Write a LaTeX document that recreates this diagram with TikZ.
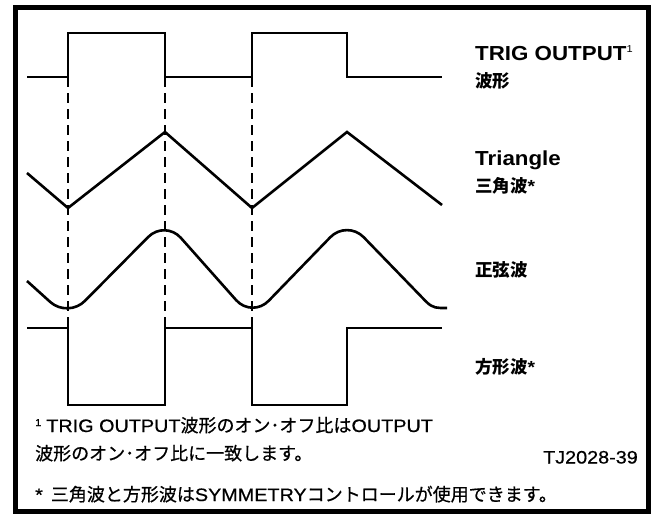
\documentclass[tikz,border=0pt]{standalone}
\usepackage{fontspec}
\setmainfont{Liberation Sans}
\newfontfamily\lat{Liberation Sans}[FakeStretch=1.1]
\newfontfamily\latm{Liberation Sans}[FakeStretch=1.1, FakeBold=0.6]
\newfontfamily\cjk{Noto Sans CJK JP}
\newfontfamily\cjkm{Noto Sans CJK JP}[FakeBold=0.6]
\newcommand\J[1]{{\cjkm #1}}
\begin{document}
\begin{tikzpicture}[x=1pt,y=-1pt,
  wave/.style={line width=2.6pt, line join=miter},
  guide/.style={line width=1.3pt, dash pattern=on 10pt off 6pt},
  lblb/.style={inner sep=0pt, font=\lat\bfseries\fontsize{20.3}{22}\selectfont},
  cjkb/.style={inner sep=0pt, font=\cjk\bfseries\fontsize{17.5}{20}\selectfont},
  fn/.style={inner sep=0pt, font=\latm\fontsize{18}{20}\selectfont}]
\useasboundingbox (0,0) rectangle (661,514);
\draw[line width=5pt] (15.5,7.5) rectangle (648.5,511.5);
% guide lines
\coordinate (g1t) at (68,77);  \coordinate (g1b) at (68,328);
\coordinate (g2t) at (165,77); \coordinate (g2b) at (165,328);
\coordinate (g3t) at (252,77); \coordinate (g3b) at (252,328);
\draw[guide] (g1t) -- (g1b);
\draw[guide] (g2t) -- (g2b);
\draw[guide] (g3t) -- (g3b);
% TRIG OUTPUT
\draw[wave] (27,77) -- (68,77) -- (68,33) -- (165,33) -- (165,77) -- (252,77) -- (252,33) -- (347,33) -- (347,77) -- (442,77);
% triangle
\draw[wave] (27,173) -- (68,208) -- (165,132) -- (252,208) -- (347,132) -- (442,205);
% sine
\draw[wave, rounded corners=24pt] (27,281) -- (68,318) -- (165,220) -- (252,318) -- (347,220) -- (426,301.5);
\draw[wave] (426,301.5) .. controls (433,308.5) and (437,308) .. (447,308);
% square
\draw[wave] (27,328) -- (68,328) -- (68,405) -- (165,405) -- (165,328) -- (252,328) -- (252,405) -- (347,405) -- (347,328) -- (442,328);
% labels
\node[lblb, anchor=base west] (trig) at (475,60) {TRIG OUTPUT\raisebox{8pt}{\mdseries\fontsize{10}{10}\selectfont 1}};
\node[cjkb, anchor=base west] (trigj) at (475,87.5) {波形};
\node[lblb, anchor=base west] (tri) at (475,165) {Triangle};
\node[cjkb, anchor=base west] (trij) at (475,192.5) {三角波{\lat *}};
\node[cjkb, anchor=base west] (sinej) at (475,276.5) {正弦波};
\node[cjkb, anchor=base west] (sqj) at (475,373.5) {方形波{\lat *}};
% footnotes
\node[fn, anchor=base west] (f1) at (35,432) {\raisebox{6pt}{\fontsize{10}{10}\selectfont 1}\hspace{5pt}TRIG OUTPUT\J{波形のオン･オフ比は}OUTPUT};
\node[fn, anchor=base west] (f2) at (35,460) {\J{波形のオン･オフ比に一致します。}};
\node[fn, anchor=base east] (tj) at (638,463.5) {TJ2028-39};
\node[fn, anchor=base west] (f3) at (35,501) {*\hspace{8pt}\J{三角波と方形波は}SYMMETRY\J{コントロールが使用できます。}};
\end{tikzpicture}
\end{document}
